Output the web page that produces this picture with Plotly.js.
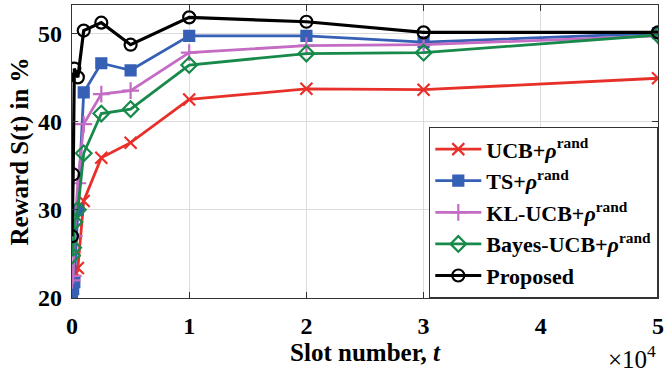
<!DOCTYPE html>
<html>
<head>
<meta charset="utf-8">
<script src="https://cdn.plot.ly/plotly-3.0.1.min.js"></script>
<style>html,body{margin:0;padding:0;background:#fff;}#chart{width:668px;height:374px;}</style>
</head>
<body>
<div id="chart"></div>
<script>
const slots = [0, 100, 200, 500, 1000, 2500, 5000, 10000, 20000, 30000, 50000];
const ucb      = [21.5, 22.5, 23.0, 23.4, 31.0, 35.9, 37.6, 42.5, 43.7, 43.6, 44.9];
const ts       = [20.4, 21.0, 21.8, 30.0, 43.3, 46.6, 45.8, 49.7, 49.7, 49.0, 50.0];
const klucb    = [22.0, 22.5, 27.0, 33.0, 39.7, 43.1, 43.5, 47.8, 48.6, 48.7, 49.7];
const bayes    = [24.8, 25.7, 28.6, 30.0, 36.4, 40.9, 41.4, 46.4, 47.7, 47.8, 49.8];
const proposed = [27.0, 34.0, 46.0, 45.0, 50.3, 51.2, 48.7, 51.8, 51.3, 50.1, 50.1];
const names = ['UCB+<i>ρ</i><sup>rand</sup>', 'TS+<i>ρ</i><sup>rand</sup>', 'KL-UCB+<i>ρ</i><sup>rand</sup>', 'Bayes-UCB+<i>ρ</i><sup>rand</sup>', 'Proposed'];
const xTickVals = [0, 10000, 20000, 30000, 40000, 50000];
const xTickText = ['0', '1', '2', '3', '4', '5'];
const yTickVals = [20, 30, 40, 50];

const series = [ucb, ts, klucb, bayes, proposed];
const colors = ['#e8302a', '#3560b5', '#c46cc4', '#17894a', '#000000'];
const symbols = ['x-thin-open', 'square', 'cross-thin-open', 'diamond-open', 'circle-open'];

const traces = series.map((y, i) => ({
  x: slots, y: y, name: names[i], type: 'scatter', mode: 'lines+markers',
  line: {color: colors[i], width: i === 4 ? 3.2 : 2.8},
  marker: {symbol: symbols[i], size: i === 1 ? 10 : 12, color: colors[i], line: {color: colors[i], width: 2.2}}
}));

const font = {family: 'Liberation Serif, Times New Roman, serif', color: '#000'};
const layout = {
  width: 668, height: 374,
  margin: {l: 72, r: 10, t: 5, b: 76},
  paper_bgcolor: '#fff', plot_bgcolor: '#fff',
  font: Object.assign({size: 22}, font),
  showlegend: true,
  xaxis: {
    range: [0, 50000], tickvals: xTickVals, ticktext: xTickText,
    ticks: 'inside', ticklen: 6, tickcolor: '#333', mirror: 'ticks',
    showline: true, linecolor: '#333', linewidth: 1.3,
    showgrid: true, gridcolor: '#dcdcdc', zeroline: false,
    ticklabelstandoff: 6,
    tickfont: Object.assign({size: 24, weight: 'bold'}, font),
    title: {text: 'Slot number, <i>t</i>', font: Object.assign({size: 25, weight: 'bold'}, font), standoff: 2}
  },
  yaxis: {
    range: [20, 53.2], tickvals: yTickVals,
    ticks: 'inside', ticklen: 6, tickcolor: '#333', mirror: 'ticks',
    showline: true, linecolor: '#333', linewidth: 1.3,
    showgrid: true, gridcolor: '#dcdcdc', zeroline: false,
    ticklabelstandoff: 4,
    tickfont: Object.assign({size: 24, weight: 'bold'}, font),
    title: {text: 'Reward S(t) in %', font: Object.assign({size: 25, weight: 'bold'}, font), standoff: 2}
  },
  legend: {
    x: 1, y: 0, xanchor: 'right', yanchor: 'bottom',
    bgcolor: '#fff', bordercolor: '#333', borderwidth: 1.3,
    font: Object.assign({size: 22, weight: 'bold'}, font),
    tracegroupgap: 0, itemwidth: 46
  },
  annotations: [{
    xref: 'paper', yref: 'paper', x: 1.0, y: -0.2, xanchor: 'right', yanchor: 'middle',
    text: '×10<sup>4</sup>', showarrow: false, font: Object.assign({size: 25}, font)
  }]
};
Plotly.newPlot('chart', traces, layout, {displayModeBar: false, staticPlot: true});
</script>
</body>
</html>
